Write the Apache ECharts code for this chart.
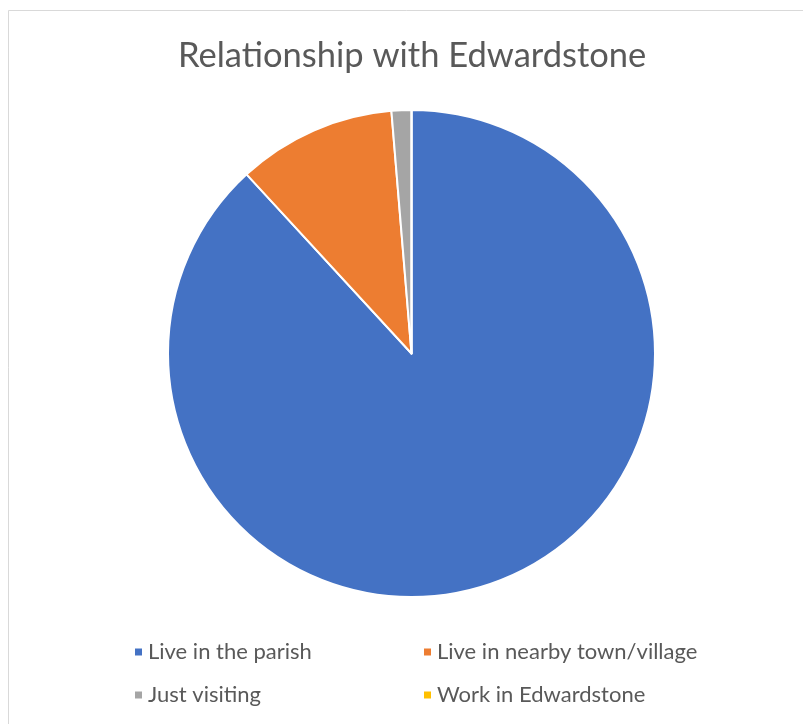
<!DOCTYPE html>
<html><head><meta charset="utf-8">
<script src="https://cdn.jsdelivr.net/npm/echarts@6/dist/echarts.min.js"></script>
<style>html,body{margin:0;padding:0;background:#fff}#c{width:803px;height:724px}</style>
</head><body><div id="c"></div>
<script>
const title = 'Relationship with Edwardstone';
const categories = ['Live in the parish', 'Live in nearby town/village', 'Just visiting', 'Work in Edwardstone'];
const values = [67, 8, 1, 0];
const colors = ['#4472C4', '#ED7D31', '#A5A5A5', '#FFC000'];

const legendPos = [[133, 641], [422, 641], [133, 684], [422, 684]];
const font = 'Lato, "Open Sans", sans-serif';
const chart = echarts.init(document.getElementById('c'));
chart.setOption({
  animation: false,
  color: colors,
  graphic: [{
    type: 'rect', shape: {x: 8.5, y: 10.5, width: 820, height: 740},
    style: {fill: '#fff', stroke: '#d9d9d9', lineWidth: 1}, z: -10
  }],
  title: {
    text: title, left: 178, top: 38, padding: 0,
    textStyle: {fontFamily: font, fontSize: 34.5, fontWeight: 'normal', color: '#595959'}
  },
  legend: categories.map((c, i) => ({
    data: [c], left: legendPos[i][0], top: legendPos[i][1],
    icon: 'rect', itemWidth: 9, itemHeight: 9, itemGap: 6, padding: 0,
    textStyle: {fontFamily: font, fontSize: 22, color: '#595959'},
    selectedMode: false
  })),
  series: [{
    type: 'pie', center: [411.5, 353.5], radius: [0, 243.5],
    startAngle: 90, clockwise: true,
    label: {show: false}, labelLine: {show: false},
    itemStyle: {borderColor: '#fff', borderWidth: 2},
    emphasis: {disabled: true},
    data: categories.map((c, i) => ({name: c, value: values[i]}))
  }]
});
</script></body></html>
